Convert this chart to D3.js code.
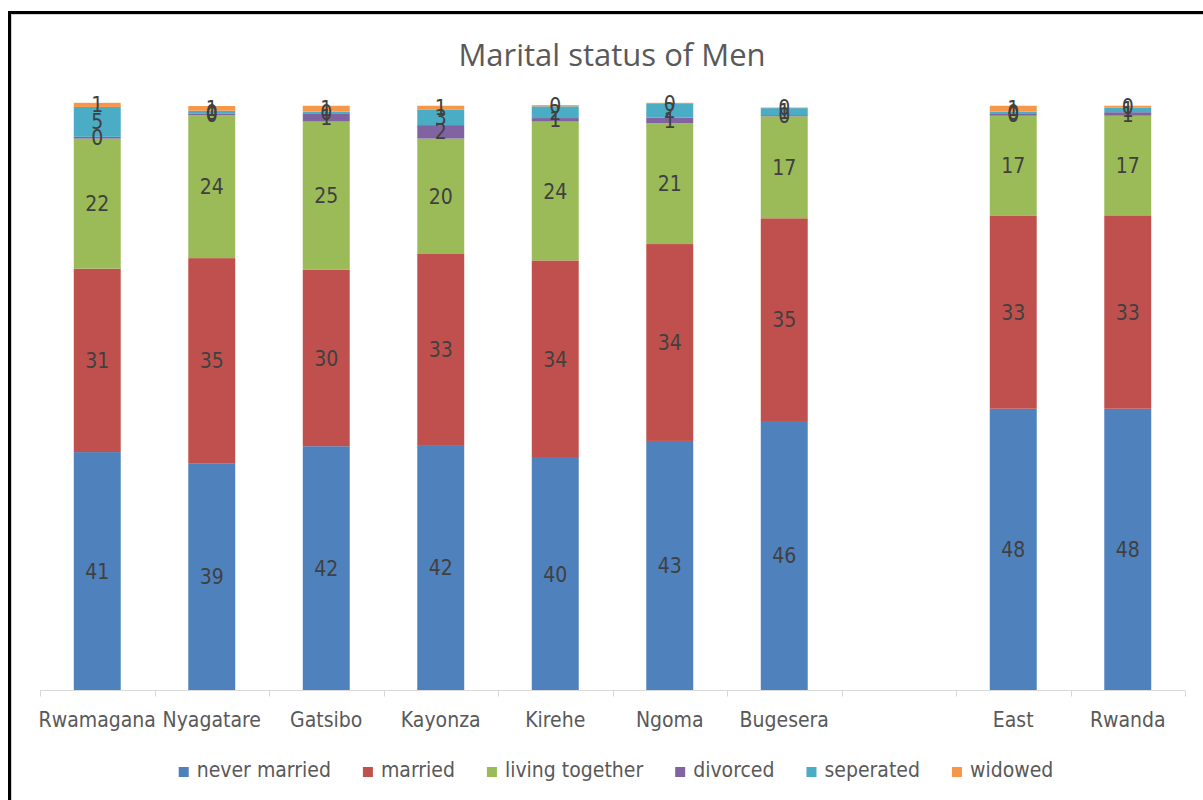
<!DOCTYPE html>
<html>
<head>
<meta charset="utf-8">
<script src="https://cdn.jsdelivr.net/npm/d3@7"></script>
<style>
  body { margin: 0; background: #fff; }
  svg text { font-family: "DejaVu Sans Condensed", "Liberation Sans Narrow", sans-serif; }
</style>
</head>
<body>
<script>
// categories (the blank one is the gap between Bugesera and East)
districts = ["Rwamagana", "Nyagatare", "Gatsibo", "Kayonza", "Kirehe", "Ngoma", "Bugesera", "", "East", "Rwanda"];
seriesNames = ["never married", "married", "living together", "divorced", "seperated", "widowed"];
seriesColors = ["#4f81bd", "#c0504d", "#9bbb59", "#8064a2", "#4bacc6", "#f79646"];

// percent values per series, one per district (null for gap)
neverMarried   = [40.6, 38.7, 41.6, 41.8, 39.6, 42.5, 45.9, null, 48.0, 48.0];
married        = [31.3, 35.0, 30.1, 32.6, 33.7, 33.6, 34.6, null, 32.9, 33.0];
livingTogether = [22.2, 24.4, 25.3, 19.7, 23.7, 20.6, 17.4, null, 17.1, 17.0];
divorced       = [0.3, 0.3, 1.3, 2.3, 0.6, 1.0, 0.2, null, 0.3, 0.6];
seperated      = [5.1, 0.45, 0.4, 2.6, 2.0, 2.3, 1.2, null, 0.4, 0.8];
widowed        = [0.7, 0.8, 1.0, 0.7, 0.2, 0.2, 0.1, null, 1.0, 0.3];

allSeries = [neverMarried, married, livingTogether, divorced, seperated, widowed];

w = 1203;
h = 800;
margin = {top: 104, right: 18, bottom: 110, left: 40};

svg = d3.select("body")
  .append("svg")
    .attr("width", w)
    .attr("height", h);

// frame of the chart area
svg.append("rect")
  .attr("x", 9.5).attr("y", 12.5)
  .attr("width", 1210).attr("height", 820)
  .attr("fill", "none")
  .attr("stroke", "#000")
  .attr("stroke-width", 3);
svg.append("rect")
  .attr("x", 11.5).attr("y", 14.5)
  .attr("width", 1210).attr("height", 820)
  .attr("fill", "none")
  .attr("stroke", "#d0d0d0")
  .attr("stroke-width", 1);

// title
svg.append("text")
  .attr("x", 612)
  .attr("y", 66)
  .attr("text-anchor", "middle")
  .attr("fill", "#595959")
  .style("font-family", "'Open Sans', sans-serif")
  .style("font-size", "31px")
  .text("Marital status of Men");

x = d3.scaleBand()
  .domain(d3.range(districts.length))
  .range([margin.left, w - margin.right])
  .paddingInner(0.59)
  .paddingOuter(0.295);

y = d3.scaleLinear()
  .domain([0, 100])
  .range([h - margin.bottom, margin.top]);

// build stacked table
table = districts.map((d, i) => {
  var row = {idx: i};
  seriesNames.forEach((s, j) => row[s] = allSeries[j][i] || 0);
  return row;
});
stacked = d3.stack().keys(seriesNames)(table);

layers = svg.selectAll("g.layer")
  .data(stacked)
  .enter()
  .append("g")
    .attr("class", "layer")
    .attr("fill", (d, i) => seriesColors[i]);

layers.selectAll("rect")
  .data(d => d.filter(p => districts[p.data.idx] !== ""))
  .enter()
  .append("rect")
    .attr("x", d => x(d.data.idx))
    .attr("y", d => y(d[1]))
    .attr("width", x.bandwidth())
    .attr("height", d => y(d[0]) - y(d[1]));

// value labels
labelG = svg.append("g");
stacked.forEach(layer => {
  layer.filter(p => districts[p.data.idx] !== "").forEach(p => {
    labelG.append("text")
      .attr("x", x(p.data.idx) + x.bandwidth() / 2)
      .attr("y", (y(p[0]) + y(p[1])) / 2)
      .attr("dy", "0.36em")
      .attr("text-anchor", "middle")
      .attr("fill", "#404040")
      .style("font-size", "21px")
      .text(Math.round(p[1] - p[0]));
  });
});

// category axis: baseline and boundary ticks
axisY = y(0) + 0.5;
svg.append("line")
  .attr("x1", x.range()[0]).attr("x2", x.range()[1])
  .attr("y1", axisY).attr("y2", axisY)
  .attr("stroke", "#d9d9d9");
svg.selectAll("line.tick")
  .data(d3.range(districts.length + 1))
  .enter()
  .append("line")
    .attr("class", "tick")
    .attr("x1", i => Math.round(x.range()[0] + i * x.step()) + 0.5)
    .attr("x2", i => Math.round(x.range()[0] + i * x.step()) + 0.5)
    .attr("y1", axisY)
    .attr("y2", axisY + 6)
    .attr("stroke", "#d9d9d9");

svg.selectAll("text.cat")
  .data(districts)
  .enter()
  .append("text")
    .attr("class", "cat")
    .attr("x", (d, i) => x(i) + x.bandwidth() / 2)
    .attr("y", 727)
    .attr("text-anchor", "middle")
    .attr("fill", "#595959")
    .style("font-size", "21px")
    .text(d => d);

// legend
legend = svg.append("g");
var lx = 0;
var gap = 32;
seriesNames.forEach((s, i) => {
  var g = legend.append("g").attr("transform", "translate(" + lx + ",0)");
  g.append("rect")
    .attr("x", 0).attr("y", -10)
    .attr("width", 10).attr("height", 10)
    .attr("fill", seriesColors[i]);
  var t = g.append("text")
    .attr("x", 18).attr("y", 0)
    .attr("fill", "#595959")
    .style("font-size", "21px")
    .text(s);
  lx += 18 + t.node().getComputedTextLength() + gap;
});
legendW = lx - gap;
legend.attr("transform", "translate(" + (616 - legendW / 2) + ",777)");
</script>
</body>
</html>
